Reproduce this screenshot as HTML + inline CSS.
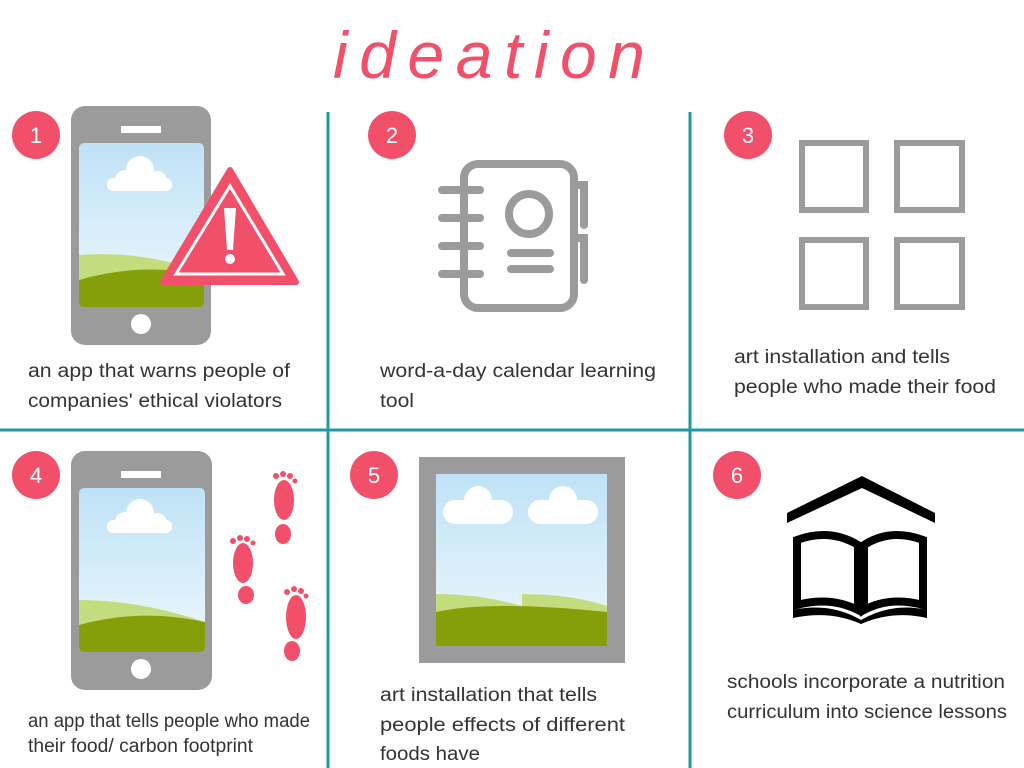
<!DOCTYPE html>
<html><head><meta charset="utf-8"><style>
html,body{margin:0;padding:0;background:#fff;}
svg{display:block;}
text{font-family:"Liberation Sans",sans-serif;}
.cap{font-size:19px;fill:#333;}
.num{font-size:22px;fill:#fff;text-anchor:middle;}
</style></head><body>
<svg width="1024" height="768" viewBox="0 0 1024 768">
<text x="333" y="78" font-size="66" font-style="italic" fill="#f2506a" textLength="312" lengthAdjust="spacing">ideation</text>
<g stroke="#22999e" stroke-width="3">
<line x1="328" y1="112" x2="328" y2="768"/><line x1="690" y1="112" x2="690" y2="768"/><line x1="0" y1="430" x2="1024" y2="430"/>
</g>
<g>
<circle cx="36" cy="135" r="24" fill="#f2506a"/><text class="num" x="36" y="143">1</text>
<circle cx="392" cy="135" r="24" fill="#f2506a"/><text class="num" x="392" y="143">2</text>
<circle cx="748" cy="135" r="24" fill="#f2506a"/><text class="num" x="748" y="143">3</text>
<circle cx="36" cy="475" r="24" fill="#f2506a"/><text class="num" x="36" y="483">4</text>
<circle cx="374" cy="475" r="24" fill="#f2506a"/><text class="num" x="374" y="483">5</text>
<circle cx="737" cy="475" r="24" fill="#f2506a"/><text class="num" x="737" y="483">6</text>
</g>
<defs><linearGradient id="sky" x1="0" y1="0" x2="0" y2="1"><stop offset="0" stop-color="#bfe2f6"/><stop offset="1" stop-color="#eef8fd"/></linearGradient></defs>
<g>
<rect x="71" y="106" width="140" height="239" rx="14" fill="#9b9b9b"/>
<rect x="121" y="126" width="40" height="7" fill="#fff"/>
<circle cx="141" cy="324" r="10" fill="#fff"/>
<rect x="79" y="143" width="125" height="164" rx="5" fill="url(#sky)"/>
<path d="M79 255 Q140 250 204 272 L204 302 Q204 307 199 307 L84 307 Q79 307 79 302Z" fill="#c3dc7d"/>
<path d="M79 280 Q140 262 204 275 L204 302 Q204 307 199 307 L84 307 Q79 307 79 302Z" fill="#859f0a"/>
<g fill="#fff"><circle cx="125" cy="180" r="10"/><circle cx="140" cy="170" r="14"/><circle cx="157" cy="181" r="10"/><rect x="107" y="178" width="65" height="13" rx="6"/></g>
</g>
<g>
<path d="M230 170 L296 282 L163 282Z" fill="#f2506a" stroke="#f2506a" stroke-width="6" stroke-linejoin="round"/>
<path d="M230 186 L283 274 L176 274Z" fill="none" stroke="#fff" stroke-width="3"/>
<path d="M224 208 L236 208 L233 250 L227 250Z" fill="#fff"/><circle cx="230" cy="259" r="5" fill="#fff"/>
</g>
<g fill="none" stroke="#9b9b9b" stroke-width="8" stroke-linecap="round">
<rect x="464" y="164" width="110" height="144" rx="14"/>
<path d="M578 185 L584 185 L584 225"/><path d="M578 238 L584 238 L584 280"/>
<path d="M442 190 H480 M442 218 H480 M442 246 H480 M442 274 H480"/>
<circle cx="529" cy="214" r="20"/>
<line x1="511" y1="253" x2="550" y2="253"/><line x1="511" y1="269" x2="550" y2="269"/>
</g>
<g fill="none" stroke="#9b9b9b" stroke-width="6">
<rect x="802" y="143" width="64" height="67"/><rect x="897" y="143" width="65" height="67"/>
<rect x="802" y="240" width="64" height="67"/><rect x="897" y="240" width="65" height="67"/>
</g>
<g>
<rect x="71" y="451" width="141" height="239" rx="14" fill="#9b9b9b"/>
<rect x="121" y="471" width="40" height="7" fill="#fff"/>
<circle cx="141" cy="669" r="10" fill="#fff"/>
<rect x="79" y="488" width="126" height="164" rx="5" fill="url(#sky)"/>
<path d="M79 600 Q140 600 205 622 L205 647 Q205 652 200 652 L84 652 Q79 652 79 647Z" fill="#c3dc7d"/>
<path d="M79 625 Q140 608 205 622 L205 647 Q205 652 200 652 L84 652 Q79 652 79 647Z" fill="#859f0a"/>
<g fill="#fff"><circle cx="125" cy="522" r="10"/><circle cx="140" cy="513" r="14"/><circle cx="157" cy="523" r="10"/><rect x="107" y="520" width="65" height="13" rx="6"/></g>
</g>
<g fill="#f2506a">
<ellipse cx="284" cy="500" rx="10" ry="20"/><ellipse cx="283" cy="534" rx="8" ry="10"/>
<circle cx="276" cy="476" r="3"/><circle cx="283" cy="474" r="3"/><circle cx="290" cy="476" r="3"/><circle cx="295" cy="481" r="2.5"/>
<ellipse cx="243" cy="563" rx="10" ry="20"/><ellipse cx="246" cy="595" rx="8" ry="9"/>
<circle cx="233" cy="541" r="3"/><circle cx="240" cy="538" r="3"/><circle cx="247" cy="539" r="3"/><circle cx="253" cy="543" r="2.5"/>
<ellipse cx="296" cy="617" rx="10" ry="22"/><ellipse cx="292" cy="651" rx="8" ry="10"/>
<circle cx="287" cy="592" r="3"/><circle cx="294" cy="589" r="3"/><circle cx="301" cy="591" r="3"/><circle cx="306" cy="596" r="2.5"/>
</g>
<g>
<rect x="419" y="457" width="206" height="206" fill="#9b9b9b"/>
<rect x="436" y="474" width="171" height="172" fill="url(#sky)"/>
<path d="M436 594 Q480 594 522 606 L522 646 L436 646Z" fill="#c3dc7d"/>
<path d="M522 594 Q570 594 607 606 L607 646 L522 646Z" fill="#c3dc7d"/>
<path d="M436 612 Q490 600 607 612 L607 646 L436 646Z" fill="#859f0a"/>
<g fill="#fff"><rect x="443" y="500" width="70" height="24" rx="12"/><circle cx="478" cy="500" r="14"/><rect x="528" y="500" width="70" height="24" rx="12"/><circle cx="563" cy="500" r="14"/></g>
</g>
<g fill="#000">
<path d="M787 513 L862 476 L935 513 L935 523 L862 488 L787 523Z"/>
<path d="M797 540 Q830 528 858 545 L858 610 Q830 596 797 605Z" fill="none" stroke="#000" stroke-width="8"/>
<path d="M923 540 Q890 528 864 545 L864 610 Q890 596 923 605Z" fill="none" stroke="#000" stroke-width="8"/>
<path d="M793 610 Q830 602 861 620 Q892 602 927 610 L927 618 Q892 610 861 624 Q830 610 793 618Z"/>
</g>
<g>
<text class="cap" x="28" y="377" textLength="262" lengthAdjust="spacingAndGlyphs">an app that warns people of</text>
<text class="cap" x="28" y="407" textLength="254" lengthAdjust="spacingAndGlyphs">companies' ethical violators</text>
<text class="cap" x="380" y="377" textLength="276" lengthAdjust="spacingAndGlyphs">word-a-day calendar learning</text>
<text class="cap" x="380" y="407" textLength="34" lengthAdjust="spacingAndGlyphs">tool</text>
<text class="cap" x="734" y="363" textLength="216" lengthAdjust="spacingAndGlyphs">art installation and tells</text>
<text class="cap" x="734" y="393" textLength="262" lengthAdjust="spacingAndGlyphs">people who made their food</text>
<text class="cap" x="28" y="727" font-size="17" textLength="282" lengthAdjust="spacingAndGlyphs">an app that tells people who made</text>
<text class="cap" x="28" y="752" font-size="17" textLength="225" lengthAdjust="spacingAndGlyphs">their food/ carbon footprint</text>
<text class="cap" x="380" y="701" textLength="217" lengthAdjust="spacingAndGlyphs">art installation that tells</text>
<text class="cap" x="380" y="731" textLength="245" lengthAdjust="spacingAndGlyphs">people effects of different</text>
<text class="cap" x="380" y="760" textLength="100" lengthAdjust="spacingAndGlyphs">foods have</text>
<text class="cap" x="727" y="688" textLength="278" lengthAdjust="spacingAndGlyphs">schools incorporate a nutrition</text>
<text class="cap" x="727" y="718" textLength="280" lengthAdjust="spacingAndGlyphs">curriculum into science lessons</text>
</g>
</svg>
</body></html>
